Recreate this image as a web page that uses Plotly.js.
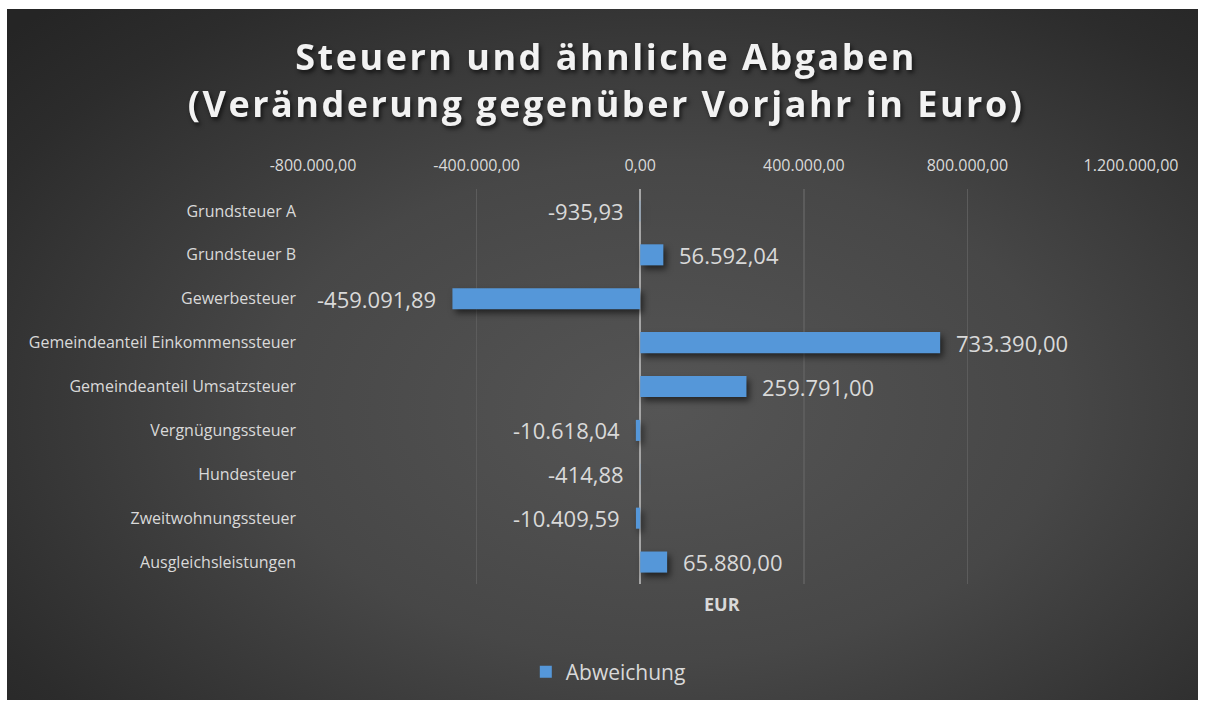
<!DOCTYPE html>
<html>
<head>
<meta charset="utf-8">
<script src="https://cdn.plot.ly/plotly-3.0.1.min.js"></script>
<style>
  html, body { margin:0; padding:0; background:#ffffff; width:1205px; height:704px; overflow:hidden; }
  #bg { position:absolute; left:7px; top:9px; width:1191px; height:691px;
        background: radial-gradient(ellipse 75% 80% at 55% 58%, #555555 0%, #474747 45%, #2c2c2c 85%, #252525 100%); }
  #chart { position:absolute; left:0; top:0; width:1205px; height:704px; }
  .gtitle { filter: drop-shadow(2px 3px 2px rgba(0,0,0,0.6)); letter-spacing: 2.5px; }
  .bars .point path { filter: drop-shadow(3px 4px 3px rgba(0,0,0,0.55)); }
</style>
</head>
<body>
<div id="bg"></div>
<div id="chart"></div>
<script>
const categories = ["Grundsteuer A", "Grundsteuer B", "Gewerbesteuer", "Gemeindeanteil Einkommenssteuer",
  "Gemeindeanteil Umsatzsteuer", "Vergnügungssteuer", "Hundesteuer", "Zweitwohnungssteuer", "Ausgleichsleistungen"];
const abweichung = [-935.93, 56592.04, -459091.89, 733390.00, 259791.00, -10618.04, -414.88, -10409.59, 65880.00];
const valueLabels = ["-935,93", "56.592,04", "-459.091,89", "733.390,00", "259.791,00", "-10.618,04", "-414,88", "-10.409,59", "65.880,00"];
const tickValues = [-800000, -400000, 0, 400000, 800000, 1200000];
const tickLabels = ["-800.000,00", "-400.000,00", "0,00", "400.000,00", "800.000,00", "1.200.000,00"];

const fontFam = "'Open Sans', 'Noto Sans', sans-serif";

const trace = {
  type: 'bar',
  orientation: 'h',
  y: categories,
  x: abweichung,
  name: 'Abweichung',
  marker: { color: '#5597d9', line: { width: 0 } },
  hoverinfo: 'none'
};

const labelAnnotations = abweichung.map((v, i) => ({
  x: v, y: categories[i], xref: 'x', yref: 'y',
  text: valueLabels[i], showarrow: false,
  xanchor: v < 0 ? 'right' : 'left', yanchor: 'middle',
  xshift: v < 0 ? -14 : 14,
  font: { family: fontFam, size: 22, color: '#d9d9d9' }
}));

const layout = {
  width: 1205, height: 704,
  paper_bgcolor: 'rgba(0,0,0,0)',
  plot_bgcolor: 'rgba(0,0,0,0)',
  separators: ',.',
  margin: { l: 313, r: 74, t: 189, b: 119 },
  title: {
    text: 'Steuern und ähnliche Abgaben<br>(Veränderung gegenüber Vorjahr in Euro)',
    font: { family: fontFam, size: 36, color: '#f2f2f2', weight: 'bold' },
    x: 0.503, xanchor: 'center',
    y: 0.9, yanchor: 'top', yref: 'container'
  },
  xaxis: {
    side: 'top',
    range: [-800000, 1200000],
    tickvals: tickValues,
    ticktext: tickLabels,
    showgrid: true,
    gridcolor: '#5c5c5c',
    gridwidth: 1.5,
    zeroline: true,
    zerolinecolor: '#a6a6a6',
    zerolinewidth: 2,
    showline: false,
    ticks: '',
    ticklabelstandoff: 14,
    tickfont: { family: fontFam, size: 16, color: '#d9d9d9' }
  },
  yaxis: {
    autorange: 'reversed',
    showgrid: false,
    zeroline: false,
    showline: false,
    ticks: '',
    ticklabelstandoff: 16,
    tickfont: { family: fontFam, size: 16, color: '#d9d9d9' }
  },
  bargap: 0.52,
  showlegend: true,
  legend: {
    orientation: 'h',
    x: 0.361, xanchor: 'center',
    y: -0.22, yanchor: 'middle',
    font: { family: fontFam, size: 21, color: '#d9d9d9' },
    bgcolor: 'rgba(0,0,0,0)'
  },
  annotations: labelAnnotations.concat([{
    text: 'EUR', showarrow: false,
    xref: 'paper', yref: 'paper', x: 0.5, y: -0.05,
    xanchor: 'center', yanchor: 'middle',
    font: { family: fontFam, size: 18, color: '#d9d9d9', weight: 'bold' }
  }])
};

Plotly.newPlot('chart', [trace], layout, { displayModeBar: false, staticPlot: true });
</script>
</body>
</html>
